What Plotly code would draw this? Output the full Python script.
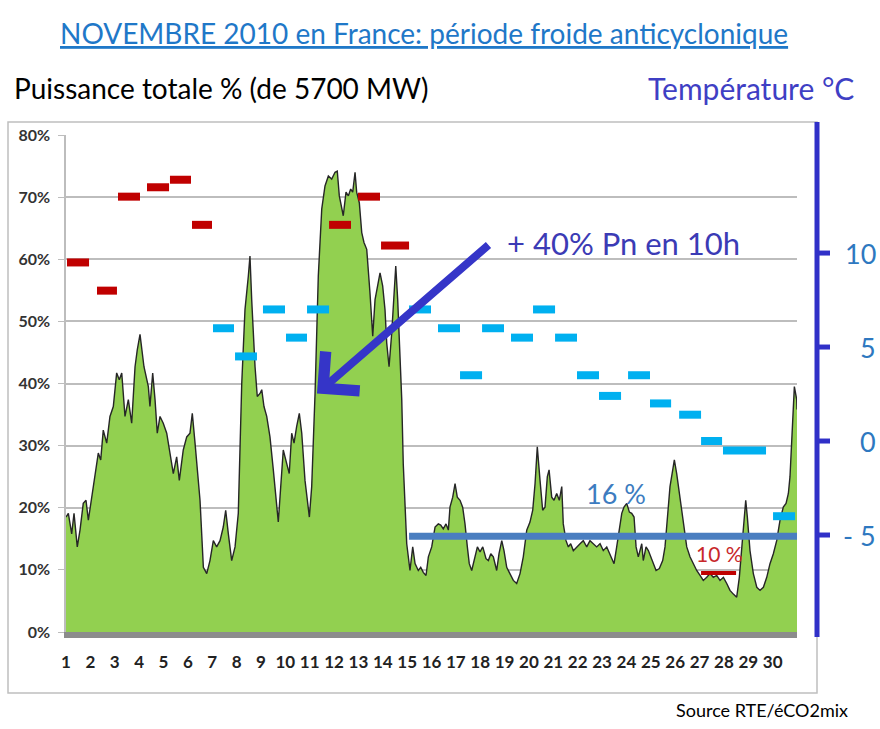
import plotly.graph_objects as go

# ---------------- data ----------------
# hour of the month (0 = 1 Nov 00h) and total power in % of 5700 MW
hours = [0, 2.3, 5.6, 7.9, 11.1, 13.8, 17.0, 19.7, 22.0, 25.3, 28.6, 31.8, 34.2, 36.7, 40.1, 43.3, 46.6, 49.9,
         52.5, 54.9, 58.1, 61.4, 64.7, 68.0, 70.2, 72.9, 76.8, 81.1, 82.7, 85.4, 87.7, 89.9, 92.6, 95.8, 99.2,
         102.4, 105.7, 109.0, 111.6, 115.5, 118.9, 122.1, 124.4, 127.1, 129.3, 132.0, 135.3, 138.6, 141.8,
         145.1, 148.4, 151.7, 154.9, 157.3, 159.9, 163.2, 166.5, 169.7, 173.1, 176.3, 179.6, 181.2, 182.9,
         186.2, 188.4, 191.1, 192.8, 195.0, 197.7, 200.9, 204.2, 206.9, 209.1, 211.5, 214.0, 217.4, 219.9,
         222.3, 224.6, 227.2, 229.8, 232.2, 235.4, 239.7, 242.0, 245.3, 248.5, 251.9, 255.1, 258.4, 261.7,
         265.0, 267.2, 269.2, 271.6, 273.1, 275.8, 278.1, 280.4, 282.4, 284.7, 286.3, 288.9, 291.3, 293.5,
         296.2, 299.4, 302.1, 304.4, 306.6, 309.3, 311.9, 314.2, 315.9, 318.2, 320.8, 323.1, 324.8, 326.7,
         329.0, 330.7, 332.2, 335.6, 338.8, 341.5, 343.8, 347.0, 349.4, 351.9, 354.6, 356.9, 360.2, 363.5,
         366.7, 369.1, 371.6, 374.3, 376.6, 378.2, 380.9, 383.2, 385.4, 388.1, 390.7, 393.0, 395.3, 397.2,
         399.6, 402.9, 405.2, 407.8, 410.5, 413.7, 416.0, 418.4, 420.9, 424.2, 426.5, 429.2, 431.4, 434.1,
         437.3, 440.6, 443.9, 447.2, 450.4, 453.8, 457.0, 459.7, 462.0, 464.2, 466.9, 469.5, 471.8, 474.1,
         475.8, 478.4, 480.7, 483.3, 485.9, 488.3, 489.8, 492.5, 494.8, 497.1, 499.7, 503.0, 506.3, 509.5,
         512.9, 516.1, 519.4, 522.7, 526.0, 529.2, 532.6, 535.8, 539.8, 542.4, 545.0, 547.4, 549.6, 552.3,
         554.9, 557.2, 559.5, 561.5, 563.7, 565.4, 567.1, 568.6, 571.3, 573.6, 575.9, 578.5, 581.2, 584.4,
         587.7, 590.0, 592.3, 594.9, 597.6, 599.2, 601.5, 604.1, 606.4, 608.7, 611.4, 614.6, 617.9, 621.2,
         624.5, 627.7, 631.1, 634.3, 637.6, 640.9, 644.2, 647.5, 650.8, 654.0, 657.3, 660.6, 663.2, 665.6,
         667.8, 669.5, 671.1, 673.7, 677.0, 680.4, 683.6, 686.9, 690.2, 693.4, 696.7, 700.0, 703.3, 706.5,
         709.2, 711.5, 713.1, 714.8, 716.4, 717.4, 719.7, 720.0]
power_pct = [18.5, 19.1, 15.8, 19.1, 13.7, 16.4, 20.7, 21.2, 18.0, 21.7, 25.0, 28.8, 27.7, 32.5, 30.4, 34.7, 36.3, 41.7,
             40.6, 41.7, 34.7, 37.4, 33.6, 42.7, 45.4, 47.9, 42.7, 39.5, 36.3, 41.7, 37.4, 32.0, 34.7, 33.6, 32.0,
             28.8, 25.5, 28.2, 24.4, 29.3, 31.4, 32.0, 35.2, 30.4, 26.1, 21.2, 10.4, 9.4, 11.5,
             14.7, 13.7, 14.7, 16.9, 19.6, 15.8, 11.5, 13.7, 19.1, 40.0, 51.9, 57.3, 60.5, 53.5,
             42.7, 37.9, 38.4, 39.0, 36.3, 34.7, 31.4, 26.1, 21.7, 17.7, 23.4, 29.3, 27.1, 25.5,
             32.0, 30.4, 33.1, 35.2, 32.0, 24.4, 18.5, 23.4, 38.4, 57.3, 68.1, 71.8, 73.4, 72.9,
             74.0, 74.2, 70.2, 68.1, 67.0, 70.8, 70.2, 71.3, 70.8, 74.0, 70.8, 69.1, 64.3, 62.7,
             61.6, 54.6, 47.6, 53.5, 55.7, 57.8, 55.7, 51.9, 46.5, 42.7, 48.1, 54.6, 58.9, 53.5,
             43.8, 37.4, 27.0, 14.2, 9.9, 13.7, 11.0, 9.9, 10.4, 9.6, 9.1, 12.1, 13.7, 16.9,
             17.4, 17.2, 16.6, 17.4, 16.4, 20.1, 21.7, 23.9, 21.7, 21.2, 20.1, 17.4, 13.7, 11.0,
             9.9, 12.1, 13.7, 12.9, 13.7, 11.8, 11.5, 12.6, 12.1, 9.9, 12.6, 14.7, 13.1, 10.4,
             9.4, 8.3, 7.8, 9.4, 12.1, 16.4, 17.7, 19.6, 23.9, 29.8, 24.4, 19.6, 20.1, 25.0,
             26.1, 21.7, 21.2, 22.3, 21.2, 23.4, 17.4, 14.7, 13.7, 14.2, 13.1, 13.7, 14.2, 14.7,
             13.7, 14.7, 14.2, 13.7, 14.2, 13.1, 13.7, 12.6, 11.0, 13.7, 16.4, 19.1, 20.1, 20.7,
             19.3, 19.1, 18.5, 13.7, 12.1, 13.1, 14.2, 11.5, 13.7, 13.1, 12.1, 11.0, 9.9, 10.2,
             11.5, 13.7, 18.0, 23.4, 26.1, 27.7, 25.5, 22.3, 19.6, 16.4, 13.7, 12.1, 11.0, 9.9,
             9.1, 8.3, 8.8, 9.4, 8.8, 9.1, 8.3, 8.8, 7.8, 6.7, 6.1, 5.6, 8.8, 13.7,
             18.0, 21.2, 18.5, 13.1, 9.4, 7.2, 6.7, 7.2, 8.8, 11.0, 12.6, 14.7, 18.0, 20.1,
             20.7, 22.3, 25.0, 30.4, 37.4, 39.5, 37.4, 35.8]

# daily temperature marks (°C), start/end hour of each mark
temp_start = [1.0, 30.5, 51.2, 79.8, 102.4, 124.1, 144.8, 166.5, 194.0, 216.7, 237.4, 259.1, 287.6, 310.3,
              337.9, 366.4, 388.1, 409.8, 438.3, 460.0, 481.7, 503.3, 525.0, 553.6, 575.2, 603.9, 625.5,
              647.1, 696.4]
temp_end = [22.7, 50.2, 72.9, 101.5, 123.1, 143.8, 165.5, 188.1, 215.7, 237.4, 259.1, 280.7, 309.3, 337.9,
            359.5, 388.1, 409.8, 431.4, 460.0, 481.7, 503.3, 525.0, 546.7, 575.2, 596.0, 625.5, 646.2,
            689.5, 718.1]
temp_c = [9.5, 8.0, 13.0, 13.5, 13.9, 11.5, 6.0, 4.5, 7.0, 5.5, 7.0, 11.5, 13.0, 10.4,
          7.0, 6.0, 3.5, 6.0, 5.5, 7.0, 5.5, 3.5, 2.4, 3.5, 2.0, 1.4, 0.0, -0.5, -4.0]
temp_warm = [True, True, True, True, True, True, False, False, False, False, False, True, True, True,
             False, False, False, False, False, False, False, False, False, False, False, False, False,
             False, False]

# reference levels (% of 5700 MW)
ref_start = [337.9, 625.5]
ref_end = [720.0, 660.0]
ref_pct = [15.4, 9.5]
ref_text = ["16 %", "10 %"]

# axes
day_tick_hours = [0, 24, 48, 72, 96, 120, 144, 168, 192, 216, 240, 264, 288, 312, 336, 360, 384, 408,
                  432, 456, 480, 504, 528, 552, 576, 600, 624, 648, 672, 696]
day_labels = ["1", "2", "3", "4", "5", "6", "7", "8", "9", "10", "11", "12", "13", "14", "15", "16", "17",
              "18", "19", "20", "21", "22", "23", "24", "25", "26", "27", "28", "29", "30"]
pct_ticks = [0, 10, 20, 30, 40, 50, 60, 70, 80]
pct_labels = ["0%", "10%", "20%", "30%", "40%", "50%", "60%", "70%", "80%"]
temp_ticks = [10, 5, 0, -5]
temp_labels = ["10", "5", "0", "- 5"]

# arrow: (hour, %) tail -> head
arrow_tail = (417.6, 62.5)
arrow_head = (247.2, 38.4)
arrow_text = "+ 40% Pn en 10h"

# ---------------- layout helpers ----------------
W, H = 880, 729
L, R, T, B = 66, 83, 135, 97
PW, PH = W - L - R, H - T - B
FONT = "Lato"


def px(xp):
    return (xp - L) / PW


def py(yp):
    return (H - B - yp) / PH


fig = go.Figure()

fig.add_trace(go.Scatter(x=hours, y=power_pct, mode="lines", fill="tozeroy",
                         fillcolor="#92d050", line=dict(color="#262626", width=1.4),
                         hoverinfo="skip", showlegend=False))

# temperature marks
for warm, col in [(True, "#c00000"), (False, "#00b0f0")]:
    xs, ys = [], []
    for s, e, t, w in zip(temp_start, temp_end, temp_c, temp_warm):
        if w == warm:
            xs += [s, e, None]
            ys += [t, t, None]
    fig.add_trace(go.Scatter(x=xs, y=ys, yaxis="y2", mode="lines",
                             line=dict(color=col, width=8), showlegend=False, hoverinfo="skip"))

# reference levels
ref_cols = ["#4a7ec0", "#c00000"]
ref_w = [7, 4]
for s, e, v, c, w in zip(ref_start, ref_end, ref_pct, ref_cols, ref_w):
    fig.add_trace(go.Scatter(x=[s, e], y=[v, v], mode="lines", line=dict(color=c, width=w),
                             showlegend=False, hoverinfo="skip"))


def label(xp, yp, text, size, color, xanchor="center"):
    return dict(x=px(xp), y=py(yp), xref="paper", yref="paper", text=text, showarrow=False,
                xanchor=xanchor, yanchor="middle", font=dict(family=FONT, size=size, color=color))


annotations = []
annotations.append(label(616, 493, ref_text[0], 27, "#3d7cc0"))
annotations.append(label(719, 553, ref_text[1], 21, "#c8282a"))

# arrow
annotations.append(dict(x=arrow_head[0], y=arrow_head[1], ax=arrow_tail[0], ay=arrow_tail[1],
                        xref="x", yref="y", axref="x", ayref="y", text="", showarrow=True,
                        arrowhead=4, arrowsize=1.25, arrowwidth=8, arrowcolor="#3535c8"))
annotations.append(label(505, 243, arrow_text, 31, "#3b3bb5", xanchor="left"))

# titles
annotations.append(label(424, 33, "<u>NOVEMBRE 2010 en France: période froide anticyclonique</u>",
                         28, "#1f78c8"))
annotations.append(label(12, 88, "Puissance totale % (de 5700 MW)", 28, "#000000", xanchor="left"))
annotations.append(label(856, 88, "Température °C", 30, "#3f3fc4", xanchor="right"))
annotations.append(label(850, 710, "Source RTE/éCO2mix", 18, "#000000", xanchor="right"))

# temperature axis tick labels
for tv, tl in zip(temp_ticks, temp_labels):
    annotations.append(dict(x=px(878), y=tv, xref="paper", yref="y2", xanchor="right", yanchor="middle",
                            text=tl, showarrow=False,
                            font=dict(family=FONT, size=27, color="#2e78c0")))

shapes = []
# outer frame
shapes.append(dict(type="rect", xref="paper", yref="paper", x0=px(8), x1=px(817), y0=py(693), y1=py(122),
                   line=dict(color="#bfbfbf", width=1.5), layer="below"))
# temperature axis line and ticks
shapes.append(dict(type="line", xref="paper", yref="paper", x0=px(817), x1=px(817), y0=py(637), y1=py(122),
                   line=dict(color="#3030c8", width=5)))
for tv in temp_ticks:
    shapes.append(dict(type="line", xref="paper", yref="y2", x0=px(817), x1=px(830), y0=tv, y1=tv,
                       line=dict(color="#3030c8", width=5)))

fig.update_layout(
    width=W, height=H,
    margin=dict(l=L, r=R, t=T, b=B),
    paper_bgcolor="white", plot_bgcolor="white",
    showlegend=False,
    font=dict(family=FONT),
    xaxis=dict(range=[0, 720], tickmode="array", tickvals=day_tick_hours, ticktext=day_labels,
               showgrid=False, zeroline=False, showline=True, linecolor="#8c8c8c", linewidth=6,
               ticks="", ticklabelstandoff=10,
               tickfont=dict(family=FONT, size=17, color="#222222", weight="bold")),
    yaxis=dict(range=[0, 80], tickmode="array", tickvals=pct_ticks, ticktext=pct_labels,
               showgrid=True, gridcolor="#bdbdbd", gridwidth=1.5, zeroline=False,
               showline=True, linecolor="#bdbdbd", linewidth=1.5,
               ticks="outside", ticklen=6, tickcolor="#bdbdbd", ticklabelstandoff=5,
               tickfont=dict(family=FONT, size=16, color="#333333", weight="bold")),
    yaxis2=dict(range=[-10.16, 16.28], overlaying="y", side="right", showgrid=False,
                zeroline=False, showticklabels=False, ticks=""),
    annotations=annotations,
    shapes=shapes,
)

fig.write_html("out.html", config={"displayModeBar": False},
               post_script="document.body.style.margin='0';document.body.style.overflow='hidden';")
